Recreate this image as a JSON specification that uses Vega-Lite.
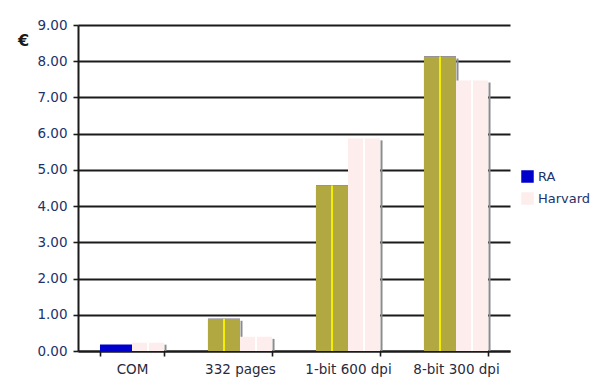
{
  "$schema": "https://vega.github.io/schema/vega-lite/v6.json",
  "autosize": {"type": "none"},
  "padding": {"left": 78, "top": 25, "right": 85, "bottom": 36},
  "width": 432,
  "height": 326,
  "background": "white",
  "config": {
    "font": "DejaVu Sans",
    "view": {"stroke": null},
    "axis": {
      "domainColor": "#1a1a1a",
      "domainWidth": 2,
      "tickColor": "#1a1a1a",
      "tickWidth": 1.6,
      "tickSize": 5,
      "labelFont": "DejaVu Sans",
      "labelFontSize": 13.5
    }
  },
  "data": {
    "values": [
      {"category": "COM", "series": "RA", "cost": 0.18},
      {"category": "COM", "series": "Harvard", "cost": 0.23},
      {"category": "332 pages", "series": "RA", "cost": 0.89},
      {"category": "332 pages", "series": "Harvard", "cost": 0.39},
      {"category": "1-bit 600 dpi", "series": "RA", "cost": 4.57},
      {"category": "1-bit 600 dpi", "series": "Harvard", "cost": 5.87},
      {"category": "8-bit 300 dpi", "series": "RA", "cost": 8.13},
      {"category": "8-bit 300 dpi", "series": "Harvard", "cost": 7.47}
    ]
  },
  "encoding": {
    "x": {
      "field": "category",
      "type": "nominal",
      "sort": ["COM", "332 pages", "1-bit 600 dpi", "8-bit 300 dpi"],
      "scale": {"paddingInner": 0.407, "paddingOuter": 0.2035},
      "axis": {
        "title": null,
        "labelAngle": 0,
        "labelColor": "#2a2a3a",
        "labelPadding": 6,
        "tickBand": "extent",
        "grid": false
      }
    },
    "y": {
      "field": "cost",
      "type": "quantitative",
      "scale": {"domain": [0, 9], "nice": false},
      "axis": {
        "title": "€",
        "titleAngle": 0,
        "titleX": -55,
        "titleY": 15,
        "titleAlign": "center",
        "titleBaseline": "middle",
        "titleFontSize": 16,
        "titleFontWeight": "bold",
        "titleColor": "#1a1a1a",
        "values": [0, 1, 2, 3, 4, 5, 6, 7, 8, 9],
        "format": ".2f",
        "labelColor": "#22326a",
        "labelPadding": 6,
        "grid": true,
        "gridColor": "#1a1a1a",
        "gridWidth": 1.8
      }
    }
  },
  "layer": [
    {
      "transform": [{"filter": "datum.series == 'RA'"}],
      "mark": {"type": "rule", "color": "#8c8c8c", "strokeWidth": 2, "xOffset": 1.5, "yOffset": 2},
      "encoding": {
        "x": {"field": "category", "type": "nominal", "bandPosition": 0.5},
        "y2": {"datum": 0}
      }
    },
    {
      "transform": [{"filter": "datum.series == 'Harvard'"}],
      "mark": {"type": "rule", "color": "#8c8c8c", "strokeWidth": 2, "xOffset": 1.5, "yOffset": 2},
      "encoding": {
        "x": {"field": "category", "type": "nominal", "bandPosition": 1},
        "y2": {"datum": 0}
      }
    },
    {
      "mark": {"type": "bar"},
      "encoding": {
        "xOffset": {
          "field": "series",
          "type": "nominal",
          "sort": ["RA", "Harvard"],
          "scale": {"paddingInner": 0, "paddingOuter": 0}
        },
        "color": {
          "field": "series",
          "type": "nominal",
          "scale": {"domain": ["RA", "Harvard"], "range": ["#0000cc", "#fdeded"]},
          "legend": {
            "title": null,
            "orient": "none",
            "legendX": 443,
            "legendY": 145,
            "padding": 0,
            "symbolType": "square",
            "symbolSize": 156,
            "symbolStrokeWidth": 0,
            "labelFontSize": 13,
            "labelColor": "#22326a",
            "labelOffset": 4,
            "rowPadding": 8
          }
        }
      }
    },
    {
      "transform": [{"filter": "datum.series == 'RA' && datum.category != 'COM'"}],
      "mark": {"type": "bar", "color": "#b2a842"},
      "encoding": {
        "xOffset": {"field": "series", "type": "nominal", "sort": ["RA", "Harvard"]}
      }
    },
    {
      "transform": [{"filter": "datum.series == 'RA' && datum.category != 'COM'"}],
      "mark": {"type": "rule", "color": "#f6ee00", "strokeWidth": 2},
      "encoding": {
        "xOffset": {"field": "series", "type": "nominal", "sort": ["RA", "Harvard"]},
        "y2": {"datum": 0}
      }
    },
    {
      "transform": [{"filter": "datum.series == 'Harvard'"}],
      "mark": {"type": "rule", "color": "#ffffff", "strokeWidth": 2},
      "encoding": {
        "xOffset": {"field": "series", "type": "nominal", "sort": ["RA", "Harvard"]},
        "y2": {"datum": 0}
      }
    }
  ]
}
